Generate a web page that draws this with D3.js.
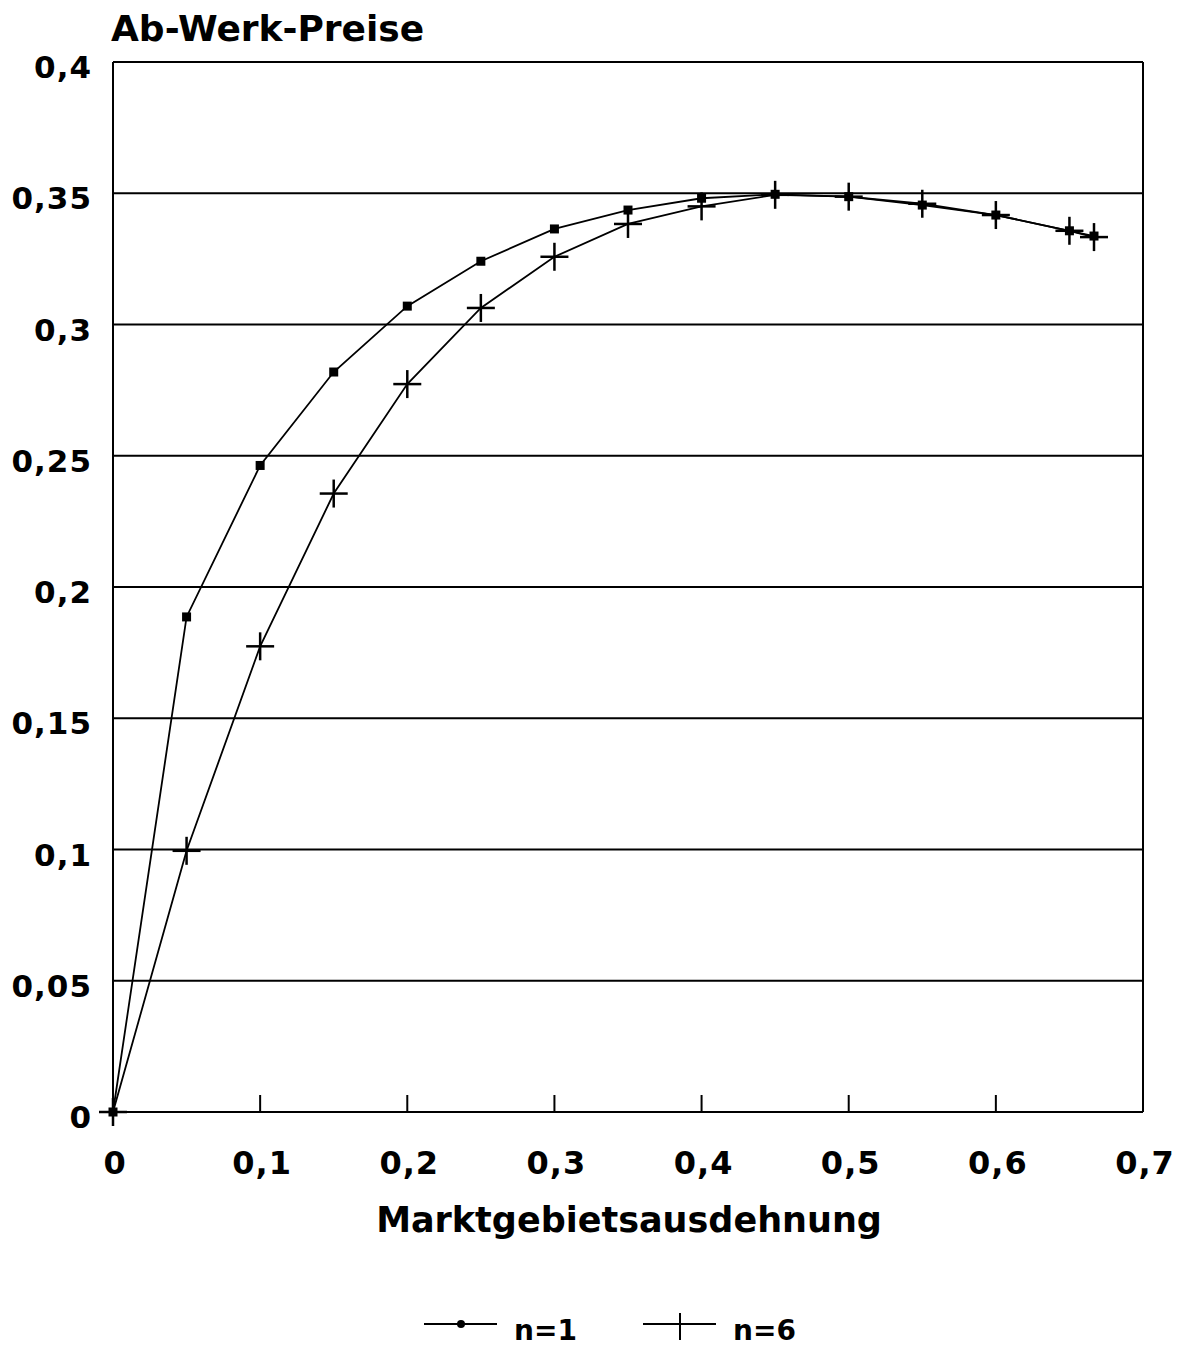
<!DOCTYPE html>
<html>
<head>
<meta charset="utf-8">
<script src="https://cdn.jsdelivr.net/npm/d3@7"></script>
<style>
  html, body { margin: 0; padding: 0; background: #fff; }
  svg { display: block; }
  text { font-family: "DejaVu Sans", sans-serif; font-weight: bold; fill: #000; }
</style>
</head>
<body>
<div id="chart"></div>
<script>
/* ===== Ab-Werk-Preise chart ===== */

// x values: Marktgebietsausdehnung (last point = 2/3)
const xValues = [0, 0.05, 0.1, 0.15, 0.2, 0.25, 0.3, 0.35, 0.4, 0.45, 0.5, 0.55, 0.6, 0.65, 0.6667];
const seriesN1 = [0, 0.1886, 0.2463, 0.2819, 0.3070, 0.3241, 0.3364, 0.3436, 0.3481, 0.3496, 0.3487, 0.3455, 0.3417, 0.3357, 0.3337];
const seriesN6 = [0, 0.0995, 0.1774, 0.2356, 0.2773, 0.3063, 0.3258, 0.3383, 0.3450, 0.3494, 0.3487, 0.3460, 0.3417, 0.3357, 0.3333];

const xTicks = [0, 0.1, 0.2, 0.3, 0.4, 0.5, 0.6, 0.7];
const yTicks = [0, 0.05, 0.1, 0.15, 0.2, 0.25, 0.3, 0.35, 0.4];
const legendLabels = ['n=1', 'n=6'];

const fmt = d => String(d).replace('.', ',');

const width = 1185, height = 1355;
const margin = { top: 62, right: 42, bottom: 243, left: 113 };
const w = width - margin.left - margin.right;
const h = height - margin.top - margin.bottom;

const svg = d3.select('#chart')
  .append('svg')
  .attr('width', width)
  .attr('height', height);

svg.append('rect').attr('width', width).attr('height', height).attr('fill', '#fff');

const g = svg.append('g')
  .attr('transform', `translate(${margin.left},${margin.top})`);

const x = d3.scaleLinear().domain([0, 0.7]).range([0, w]);
const y = d3.scaleLinear().domain([0, 0.4]).range([h, 0]);

// Grid lines
g.selectAll('.grid-line')
  .data(yTicks)
  .join('line')
  .attr('x1', 0).attr('x2', w)
  .attr('y1', d => y(d)).attr('y2', d => y(d))
  .attr('stroke', '#000')
  .attr('stroke-width', 2);

// Frame (left + right)
g.append('line')
  .attr('x1', 0).attr('x2', 0).attr('y1', 0).attr('y2', h)
  .attr('stroke', '#000').attr('stroke-width', 2);
g.append('line')
  .attr('x1', w).attr('x2', w).attr('y1', 0).attr('y2', h)
  .attr('stroke', '#000').attr('stroke-width', 2);

// X ticks (pointing inward)
g.selectAll('.x-tick')
  .data(xTicks.slice(1, -1))
  .join('line')
  .attr('x1', d => x(d)).attr('x2', d => x(d))
  .attr('y1', h).attr('y2', h - 17)
  .attr('stroke', '#000').attr('stroke-width', 2);

// Y labels
g.selectAll('.y-label')
  .data(yTicks)
  .join('text')
  .attr('x', -21)
  .attr('y', d => y(d) + 16)
  .attr('text-anchor', 'end')
  .attr('font-size', '31px')
  .attr('letter-spacing', '1px')
  .text(fmt);

// X labels
g.selectAll('.x-label')
  .data(xTicks)
  .join('text')
  .attr('x', d => x(d) + 2)
  .attr('y', h + 62)
  .attr('text-anchor', 'middle')
  .attr('font-size', '32px')
  .attr('letter-spacing', '1px')
  .text(fmt);

// Axis titles
svg.append('text')
  .attr('x', 111)
  .attr('y', 41)
  .attr('font-size', '36px')
  .text('Ab-Werk-Preise');

svg.append('text')
  .attr('x', 629)
  .attr('y', 1232)
  .attr('text-anchor', 'middle')
  .attr('font-size', '35px')
  .text('Marktgebietsausdehnung');

// Lines
const pts1 = xValues.map((d, i) => ({ x: d, y: seriesN1[i] }));
const pts6 = xValues.map((d, i) => ({ x: d, y: seriesN6[i] }));

const line = d3.line().x(d => x(d.x)).y(d => y(d.y));

g.append('path')
  .datum(pts1)
  .attr('fill', 'none')
  .attr('stroke', '#000')
  .attr('stroke-width', 1.8)
  .attr('d', line);

g.append('path')
  .datum(pts6)
  .attr('fill', 'none')
  .attr('stroke', '#000')
  .attr('stroke-width', 1.8)
  .attr('d', line);

// Square markers (n=1)
g.selectAll('.sq')
  .data(pts1)
  .join('rect')
  .attr('x', d => x(d.x) - 4.5)
  .attr('y', d => y(d.y) - 4.5)
  .attr('width', 9)
  .attr('height', 9)
  .attr('fill', '#000');

// Cross markers (n=6)
const cross = g.selectAll('.cross')
  .data(pts6)
  .join('g')
  .attr('transform', d => `translate(${x(d.x)},${y(d.y)})`);
cross.append('line').attr('x1', -14).attr('x2', 14).attr('y1', 0).attr('y2', 0)
  .attr('stroke', '#000').attr('stroke-width', 2.5);
cross.append('line').attr('x1', 0).attr('x2', 0).attr('y1', -14).attr('y2', 14)
  .attr('stroke', '#000').attr('stroke-width', 2.5);

// Legend
const legY = 1324;
const leg1 = svg.append('g').attr('transform', `translate(424,${legY})`);
leg1.append('line').attr('x1', 0).attr('x2', 73).attr('y1', 0).attr('y2', 0)
  .attr('stroke', '#000').attr('stroke-width', 2);
leg1.append('circle').attr('cx', 37).attr('cy', 0).attr('r', 4).attr('fill', '#000');
leg1.append('text').attr('x', 90).attr('y', 16).attr('font-size', '28px').text(legendLabels[0]);

const leg2 = svg.append('g').attr('transform', `translate(643,${legY})`);
leg2.append('line').attr('x1', 0).attr('x2', 73).attr('y1', 0).attr('y2', 0)
  .attr('stroke', '#000').attr('stroke-width', 2);
leg2.append('line').attr('x1', 37).attr('x2', 37).attr('y1', -11).attr('y2', 16)
  .attr('stroke', '#000').attr('stroke-width', 2);
leg2.append('text').attr('x', 90).attr('y', 16).attr('font-size', '28px').text(legendLabels[1]);
</script>
</body>
</html>
